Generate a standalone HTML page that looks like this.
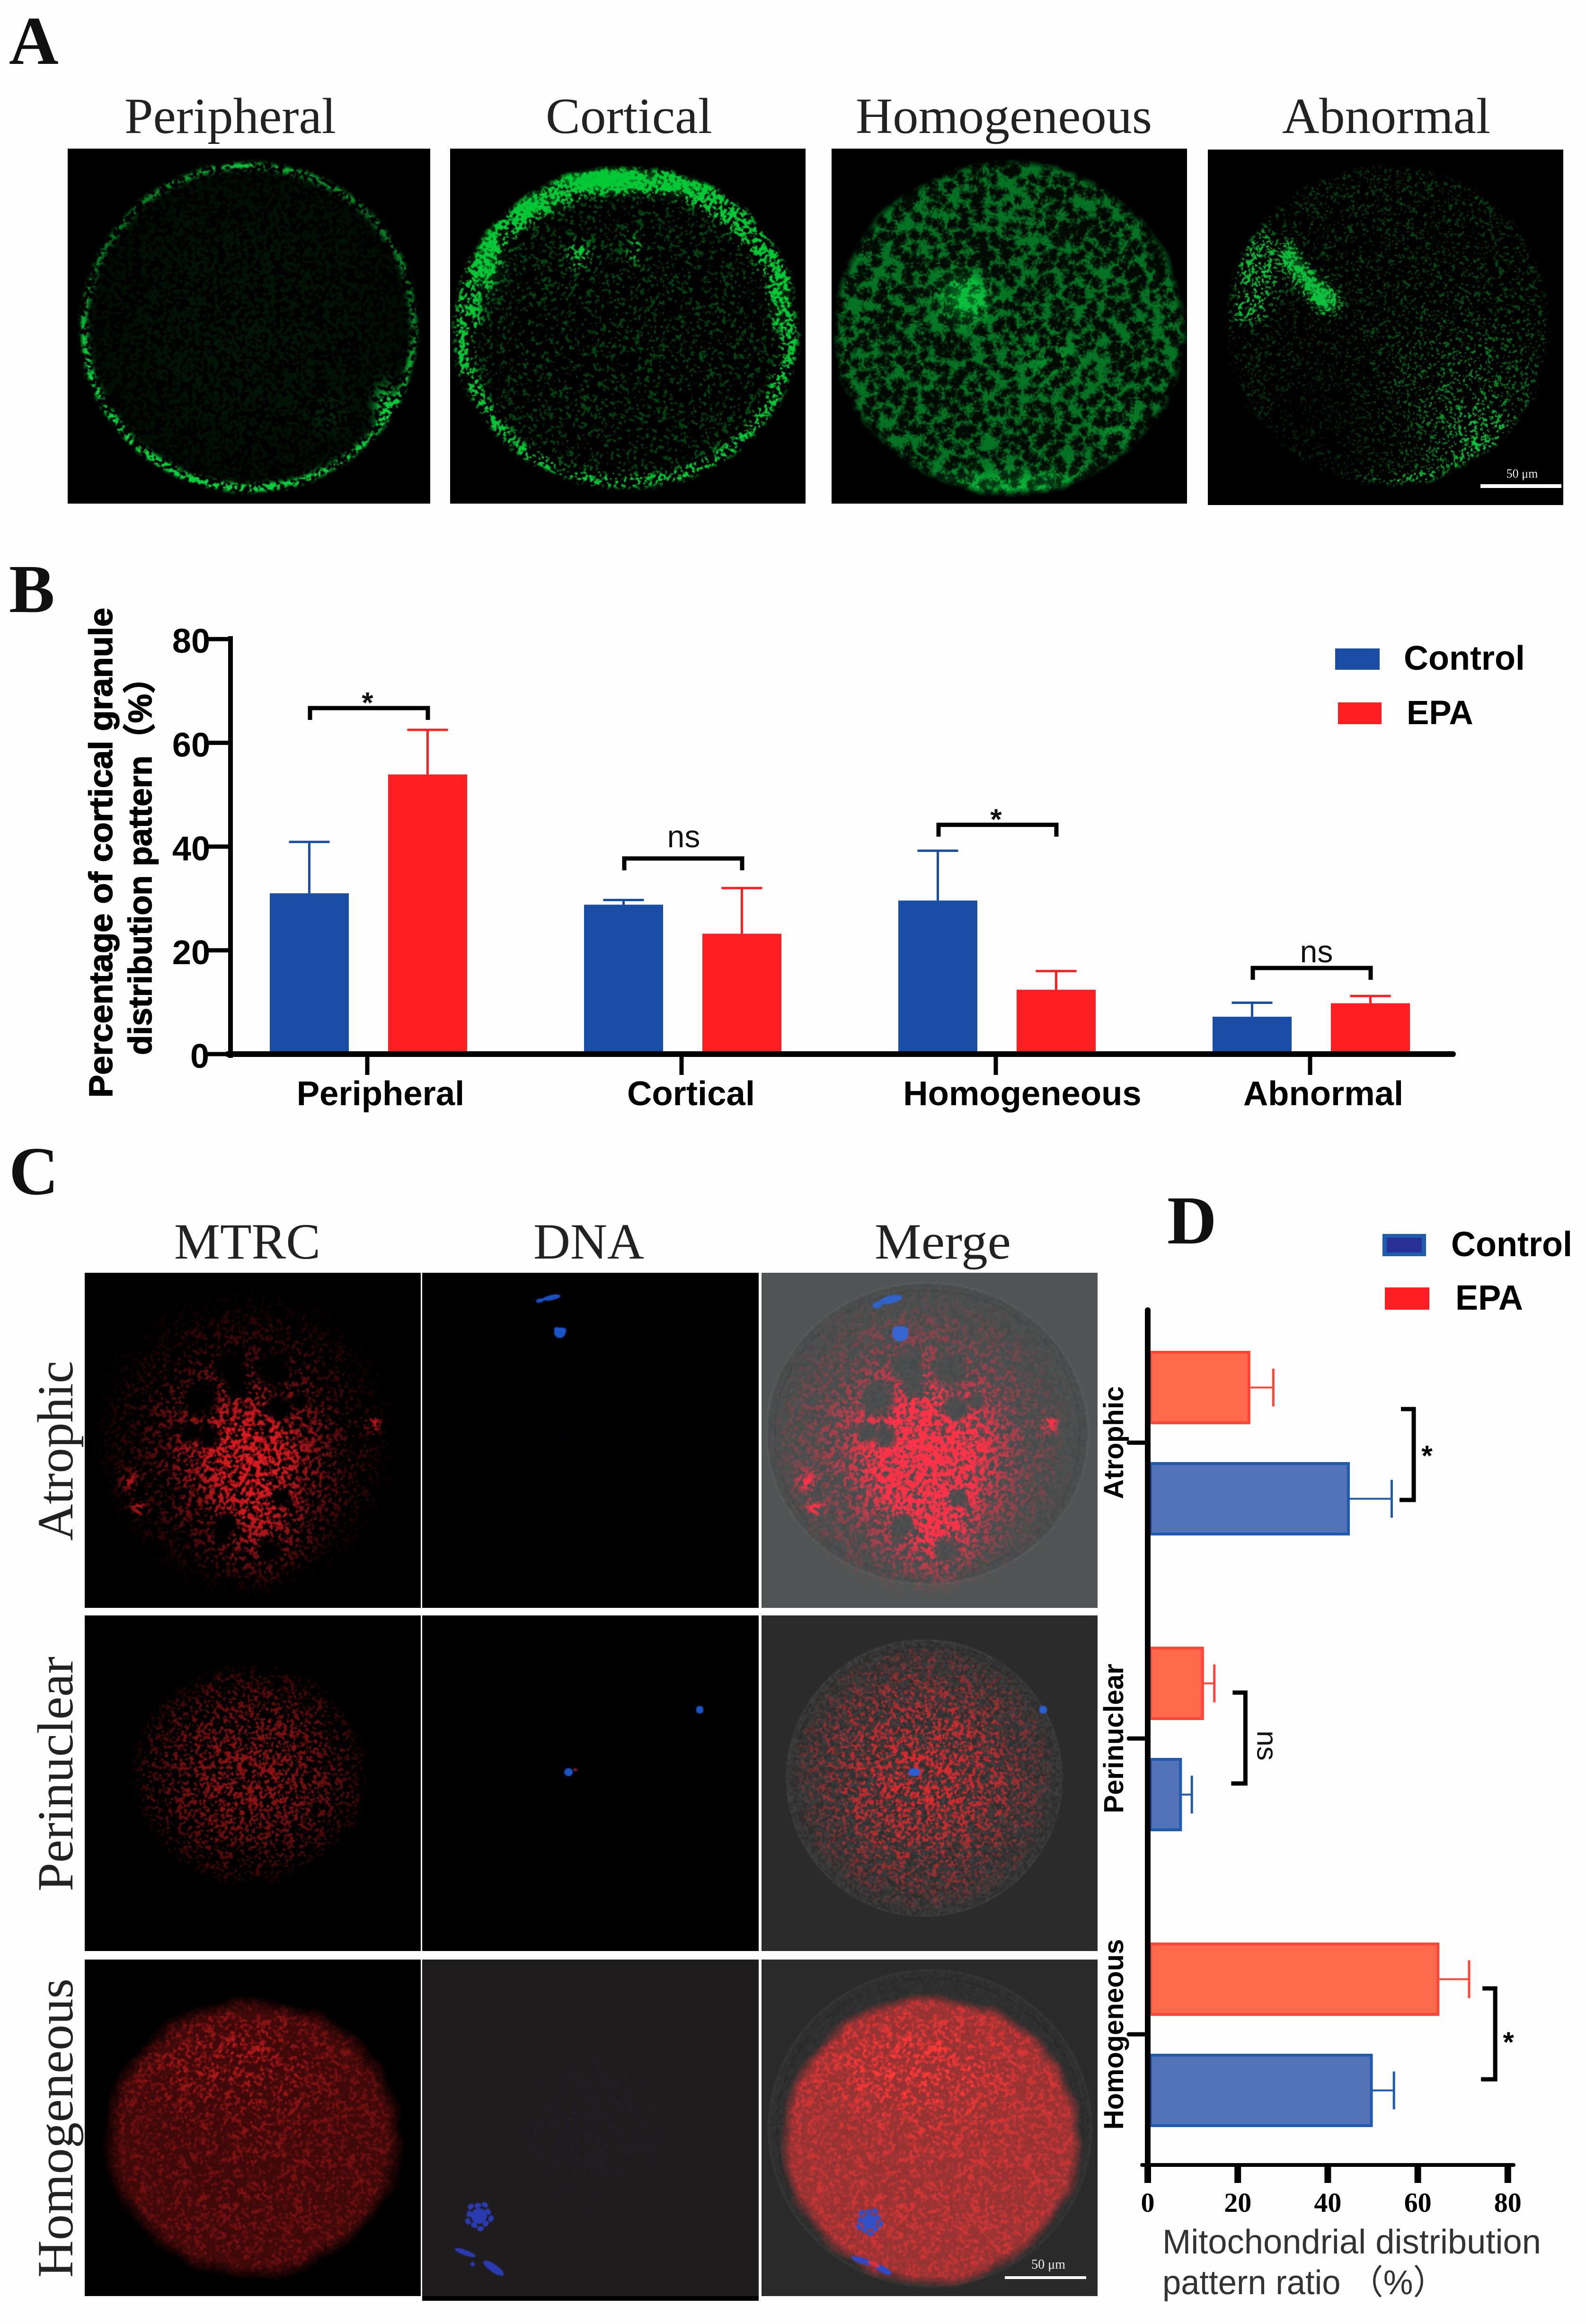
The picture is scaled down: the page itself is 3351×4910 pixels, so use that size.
<!DOCTYPE html>
<html lang="en">
<head>
<meta charset="utf-8">
<title>Cortical granule and mitochondrial distribution figure</title>
<style>
html,body{margin:0;padding:0;background:#fefefe;}
#page{position:relative;width:3351px;height:4910px;overflow:hidden;background:#fefefe;}
canvas{position:absolute;display:block;background:#000;}
#overlay{position:absolute;left:0;top:0;}
text{font-family:"Liberation Sans","Noto Sans CJK SC",sans-serif;}
.serif{font-family:"Liberation Serif","Noto Serif CJK SC",serif;}
.title{font-family:"Liberation Serif",serif;font-size:107px;fill:#222;}
.letter{font-family:"Liberation Serif",serif;font-size:145px;font-weight:bold;fill:#111;}
.bold{font-weight:bold;fill:#000;}
.heavy{stroke:#000;stroke-width:1.5px;}
</style>
</head>
<body>
<div id="page">
<canvas id="a1" style="left:143px;top:314px;width:766px;height:750px"></canvas>
<canvas id="a2" style="left:951px;top:314px;width:751px;height:750px"></canvas>
<canvas id="a3" style="left:1757px;top:314px;width:751px;height:750px"></canvas>
<canvas id="a4" style="left:2552px;top:316px;width:751px;height:751px"></canvas>

<canvas id="c11" style="left:179px;top:2689px;width:710px;height:708px"></canvas>
<canvas id="c12" style="left:892px;top:2689px;width:711px;height:708px"></canvas>
<canvas id="c13" style="left:1609px;top:2689px;width:710px;height:708px"></canvas>
<canvas id="c21" style="left:179px;top:3413px;width:710px;height:709px"></canvas>
<canvas id="c22" style="left:892px;top:3413px;width:711px;height:709px"></canvas>
<canvas id="c23" style="left:1609px;top:3413px;width:710px;height:709px"></canvas>
<canvas id="c31" style="left:179px;top:4140px;width:710px;height:711px"></canvas>
<div style="position:absolute;left:892px;top:4845px;width:711px;height:16px;background:#000"></div>
<canvas id="c32" style="left:892px;top:4140px;width:711px;height:711px"></canvas>
<canvas id="c33" style="left:1609px;top:4140px;width:710px;height:711px"></canvas>

<svg id="overlay" width="3351" height="4910" viewBox="0 0 3351 4910" xmlns="http://www.w3.org/2000/svg">
  <text class="letter" x="19" y="135">A</text>
  <text class="letter" x="19" y="1293">B</text>
  <text class="letter" x="19" y="2523">C</text>
  <text class="letter" x="2466" y="2627">D</text>

  <text class="title" x="263" y="281" textLength="447" lengthAdjust="spacingAndGlyphs">Peripheral</text>
  <text class="title" x="1153" y="281" textLength="352" lengthAdjust="spacingAndGlyphs">Cortical</text>
  <text class="title" x="1808" y="281" textLength="626" lengthAdjust="spacingAndGlyphs">Homogeneous</text>
  <text class="title" x="2709" y="281" textLength="440" lengthAdjust="spacingAndGlyphs">Abnormal</text>

  <rect x="3128" y="1023" width="171" height="8" fill="#fff"/>
  <text class="serif" x="3216" y="1009" font-size="26" fill="#eee" text-anchor="middle">50 μm</text>

  <text class="bold heavy" transform="rotate(-90 237 2319)" x="237" y="2319" font-size="70" textLength="1035" lengthAdjust="spacingAndGlyphs">Percentage of cortical granule</text>
  <text class="bold heavy" transform="rotate(-90 320 2229)" x="320" y="2229" font-size="70" textLength="832" lengthAdjust="spacingAndGlyphs">distribution pattern（%）</text>

  <rect x="2821" y="1370" width="94" height="45" fill="#1a4da5"/>
  <text class="bold" x="2966" y="1415" font-size="72">Control</text>
  <rect x="2827" y="1484" width="92" height="46" fill="#ff1f22"/>
  <text class="bold" x="2972" y="1530" font-size="71">EPA</text>

  <text class="title" x="368" y="2659" textLength="309" lengthAdjust="spacingAndGlyphs">MTRC</text>
  <text class="title" x="1127" y="2659" textLength="234" lengthAdjust="spacingAndGlyphs">DNA</text>
  <text class="title" x="1848" y="2659" textLength="288" lengthAdjust="spacingAndGlyphs">Merge</text>

  <text class="title" transform="rotate(-90 153 3255)" x="153" y="3255" textLength="380" lengthAdjust="spacingAndGlyphs">Atrophic</text>
  <text class="title" transform="rotate(-90 153 3996)" x="153" y="3996" textLength="496" lengthAdjust="spacingAndGlyphs">Perinuclear</text>
  <text class="title" transform="rotate(-90 153 4812)" x="153" y="4812" textLength="632" lengthAdjust="spacingAndGlyphs">Homogeneous</text>

  <rect x="2123" y="4809" width="172" height="6" fill="#fff"/>
  <text class="serif" x="2215" y="4793" font-size="28" fill="#eee" text-anchor="middle">50 μm</text>

  <rect x="2921" y="2607" width="92" height="47" fill="#1f5cae"/>
  <rect x="2930" y="2615" width="74" height="31" fill="#2a2f96"/>
  <text class="bold" x="3066" y="2654" font-size="74" textLength="256" lengthAdjust="spacingAndGlyphs">Control</text>
  <rect x="2926" y="2720" width="94" height="47" fill="#ff1f22"/>
  <text class="bold" x="3075" y="2767" font-size="74" textLength="143" lengthAdjust="spacingAndGlyphs">EPA</text>

  <text x="2456" y="4761" font-size="72" fill="#333" textLength="800" lengthAdjust="spacingAndGlyphs">Mitochondrial distribution</text>
  <text x="2456" y="4847" font-size="72" fill="#333" textLength="600" lengthAdjust="spacingAndGlyphs">pattern ratio （%）</text>

  <g id="chart-b"></g>
  <g id="chart-d"></g>
</svg>
</div>

<script>
/* ---------- Chart B data ---------- */
const bCategories = ['Peripheral', 'Cortical', 'Homogeneous', 'Abnormal'];
const bControl = [31.0, 28.8, 29.6, 7.2];
const bEpa = [53.9, 23.2, 12.4, 9.8];
const bControlUpper = [40.9, 29.7, 39.2, 9.9];
const bEpaUpper = [62.5, 32.0, 16.0, 11.2];
const bTicks = [0, 20, 40, 60, 80];
const bSigLabels = ['*', 'ns', '*', 'ns'];
const bSigLevels = [66.7, 37.7, 44.2, 16.6];

/* ---------- Chart D data ---------- */
const dCategories = ['Atrophic', 'Perinuclear', 'Homogeneous'];
const dControl = [44.9, 7.6, 50.0];
const dEpa = [22.8, 12.5, 64.8];
const dControlUpper = [54.2, 9.8, 54.7];
const dEpaUpper = [27.9, 14.8, 71.4];
const dTicks = [0, 20, 40, 60, 80];
const dSigLabels = ['*', 'ns', '*'];
const dSigLevels = [59.1, 21.7, 77.2];

const NS = 'http://www.w3.org/2000/svg';
function mk(parent, tag, attrs, txt) {
  const e = document.createElementNS(NS, tag);
  for (const k in attrs) e.setAttribute(k, attrs[k]);
  if (txt !== undefined) e.textContent = txt;
  parent.appendChild(e);
  return e;
}

/* ---------- Chart B ---------- */
(function () {
  const g = document.getElementById('chart-b');
  const bY = v => 2227 - v * 10.96;
  const bGroup = i => 570 + 664 * i;
  const barW = 167, epaShift = 250, capHalf = 43;
  const blue = '#1a4da5', red = '#ff1f22';

  function series(values, upper, shift, colour, label) {
    values.forEach((v, i) => {
      const x = bGroup(i) + shift;
      const cx = x + barW / 2;
      const bar = mk(g, 'rect', { x: x, y: bY(v), width: barW, height: bY(0) - bY(v), fill: colour });
      
      
      const stem = mk(g, 'line', { x1: cx, x2: cx, y1: bY(v), y2: bY(upper[i]), stroke: colour, 'stroke-width': 5 });
      
      
      const cap = mk(g, 'line', { x1: cx - capHalf, x2: cx + capHalf, y1: bY(upper[i]), y2: bY(upper[i]), stroke: colour, 'stroke-width': 5 });
      
      
    });
  }
  series(bControl, bControlUpper, 0, blue, 'control');
  series(bEpa, bEpaUpper, epaShift, red, 'epa');

  const yAxis = mk(g, 'line', { x1: 487, x2: 487, y1: 1344, y2: bY(0) + 8, stroke: '#000', 'stroke-width': 10 });
  
  
  const xAxis = mk(g, 'line', { x1: 481, x2: 3070, y1: bY(0), y2: bY(0), stroke: '#000', 'stroke-width': 12, 'stroke-linecap': 'round' });
  
  

  bTicks.forEach(t => {
    const tick = mk(g, 'line', { x1: 438, x2: 487, y1: bY(t), y2: bY(t), stroke: '#000', 'stroke-width': 9 });
    
    
    const lab = mk(g, 'text', { x: t === 0 ? 442 : 444, y: bY(t) + 29, 'font-size': 72, 'font-weight': 'bold', 'text-anchor': 'end', fill: '#000' }, String(t));
    
    
  });

  bCategories.forEach((c, i) => {
    const tx = bGroup(i) + 206;
    const tick = mk(g, 'line', { x1: tx, x2: tx, y1: bY(0), y2: bY(0) + 44, stroke: '#000', 'stroke-width': 9 });
    
    
    const lab = mk(g, 'text', { x: tx + (i === 1 ? 20 : i === 2 ? 56 : 28), y: 2335, 'font-size': 72.5, 'font-weight': 'bold', 'text-anchor': 'middle', fill: '#000' }, c);
    
    

    const x1 = bGroup(i) + 85, x2 = bGroup(i) + 334, y = bY(bSigLevels[i]);
    const br = mk(g, 'path', { d: 'M' + x1 + ' ' + (y + 25) + 'V' + y + 'H' + x2 + 'V' + (y + 25), fill: 'none', stroke: '#000', 'stroke-width': 9 });
    
    
    const isStar = bSigLabels[i] === '*';
    const sig = mk(g, 'text', { x: (x1 + x2) / 2 + (isStar ? -3 : (i === 3 ? 10 : 1)), y: isStar ? y + 10 : (i === 3 ? y - 12 : y - 24), 'font-size': isStar ? 62 : 66, 'font-weight': isStar ? 'bold' : 'normal', 'text-anchor': 'middle', fill: '#111' }, bSigLabels[i]);
    
    
  });
})();

/* ---------- Chart D ---------- */
(function () {
  const g = document.getElementById('chart-d');
  const dX = v => 2425 + v * 9.51;
  const dRow = i => 3048 + 625 * i;
  const barH = 155, capHalf = 40;

  function series(values, upper, shift, fill, edge, label) {
    values.forEach((v, i) => {
      const y = dRow(i) + shift;
      const bar = mk(g, 'rect', { x: 2431, y: y + 3, width: dX(v) - 2431 - 3, height: barH - 6, fill: fill, stroke: edge, 'stroke-width': 6 });
      
      
      const stem = mk(g, 'line', { x1: dX(v), x2: dX(upper[i]), y1: y + barH / 2, y2: y + barH / 2, stroke: edge, 'stroke-width': 4 });
      
      
      const cap = mk(g, 'line', { x1: dX(upper[i]), x2: dX(upper[i]), y1: y + barH / 2 - capHalf, y2: y + barH / 2 + capHalf, stroke: edge, 'stroke-width': 5 });
      
      
    });
  }
  series(dEpa, dEpaUpper, -194, '#ff6a4d', '#ff4535', 'epa');
  series(dControl, dControlUpper, 41, '#5373b9', '#1e5bb0', 'control');

  const yAxis = mk(g, 'line', { x1: 2425, x2: 2425, y1: 2768, y2: 4576, stroke: '#000', 'stroke-width': 12, 'stroke-linecap': 'round' });
  
  
  const xAxis = mk(g, 'line', { x1: 2413, x2: 3198, y1: 4574, y2: 4574, stroke: '#000', 'stroke-width': 8, 'stroke-linecap': 'round' });
  
  

  dTicks.forEach(t => {
    const tick = mk(g, 'line', { x1: dX(t), x2: dX(t), y1: 4570, y2: 4612, stroke: '#000', 'stroke-width': 14 });
    
    
    const lab = mk(g, 'text', { x: dX(t), y: 4673, 'font-size': 58, 'font-weight': 'bold', 'text-anchor': 'middle', fill: '#000', class: 'serif' }, String(t));
    
    
  });

  dCategories.forEach((c, i) => {
    const y = dRow(i);
    const tick = mk(g, 'line', { x1: 2385, x2: 2425, y1: y, y2: y, stroke: '#000', 'stroke-width': 9, 'stroke-linecap': 'round' });
    
    
    const lab = mk(g, 'text', { x: 2373, y: y, 'font-size': 58, 'font-weight': 'bold', 'text-anchor': 'middle', fill: '#000', transform: 'rotate(-90 2373 ' + y + ')' }, c);
    
    

    const bx = dX(dSigLevels[i]);
    const top = y - (i === 0 ? 71 : 97);
    const br = mk(g, 'path', { d: 'M' + (bx - 27) + ' ' + top + 'H' + bx + 'V' + (top + 192) + 'H' + (bx - 30), fill: 'none', stroke: '#000', 'stroke-width': 9 });
    
    
    let sig;
    if (dSigLabels[i] === '*') {
      sig = mk(g, 'text', { x: bx + 28, y: top + 97 + (i === 2 ? 37 : 22), 'font-size': 60, 'font-weight': 'bold', 'text-anchor': 'middle', fill: '#000' }, '*');
    } else {
      const nx = bx + 25, ny = top + 112;
      sig = mk(g, 'text', { x: nx, y: ny, 'font-size': 60, 'text-anchor': 'middle', fill: '#111', transform: 'rotate(90 ' + nx + ' ' + ny + ')' }, dSigLabels[i]);
    }
    
    
  });
})();

/* ---------- Micrograph texture painter (decorative image stand-ins) ---------- */
const NOISE_N = 256;
const noiseTable = new Float32Array(NOISE_N * NOISE_N);
(function () {
  let s = 123456789;
  for (let i = 0; i < noiseTable.length; i++) {
    s = (s * 1664525 + 1013904223) >>> 0;
    noiseTable[i] = ((s >>> 8) & 65535) / 65535;
  }
})();
function vnoise(x, y) {
  const xi = Math.floor(x), yi = Math.floor(y);
  let fx = x - xi, fy = y - yi;
  fx = fx * fx * (3 - 2 * fx);
  fy = fy * fy * (3 - 2 * fy);
  const m = NOISE_N - 1;
  const t = noiseTable;
  const a = t[(yi & m) * NOISE_N + (xi & m)], b = t[(yi & m) * NOISE_N + ((xi + 1) & m)];
  const c = t[((yi + 1) & m) * NOISE_N + (xi & m)], d = t[((yi + 1) & m) * NOISE_N + ((xi + 1) & m)];
  return a + (b - a) * fx + (c - a) * fy + (a - b - c + d) * fx * fy;
}
function worley(x, y) {
  const xi = Math.floor(x), yi = Math.floor(y), m = NOISE_N - 1;
  let best = 9;
  for (let j = -1; j <= 1; j++) for (let i = -1; i <= 1; i++) {
    const cx = xi + i, cy = yi + j;
    const px = cx + noiseTable[(cy & m) * NOISE_N + (cx & m)];
    const py = cy + noiseTable[((cy + 77) & m) * NOISE_N + ((cx + 31) & m)];
    const dd = (x - px) * (x - px) + (y - py) * (y - py);
    if (dd < best) best = dd;
  }
  return Math.sqrt(best);
}
function grain(x, y, sc, seed) {
  const a = vnoise((.866 * x + .5 * y) / sc + seed, (-.5 * x + .866 * y) / sc + seed);
  const b = vnoise((.5 * x - .866 * y) / (sc * .55) - seed, (.866 * x + .5 * y) / (sc * .55) + seed);
  const c = vnoise((.96 * x + .28 * y) / (sc * .3) + 11, (-.28 * x + .96 * y) / (sc * .3));
  return .5 + (.55 * a + .3 * b + .15 * c - .5) * 1.4;
}
const cl = v => v < 0 ? 0 : v > 1 ? 1 : v;

function paint(id, o) {
  const cv = document.getElementById(id);
  const W = Math.round(parseFloat(cv.style.width) / 2), H = Math.round(parseFloat(cv.style.height) / 2);
  cv.width = W; cv.height = H;
  const ctx = cv.getContext('2d');
  const img = ctx.createImageData(W, H), px = img.data;
  const sc = o.sc || 3, thr = o.thr === undefined ? .45 : o.thr, gain = o.gain || 4;
  const seed = (o.seed || 1) * 37.3;
  const spots = o.spots || [], holes = o.holes || [], edge = o.edge;
  const fo = o.fo === undefined ? 0 : o.fo, base = o.base || 0, dens = o.dens || 0, wob = o.wob || 0;
  for (let y = 0; y < H; y++) {
    for (let x = 0; x < W; x++) {
      const u = x / W, v = y / H;
      const dx = (u - o.cx) / o.rx, dy = (v - o.cy) / o.ry;
      let d = Math.hypot(dx, dy);
      if (wob) d += (vnoise(x / 22 + seed, y / 22 + 5) - .5) * wob;
      const m = cl((1.02 - d) / (o.soft || .04));
      let I = 0, solid = 0;
      if (m > 0) {
        I = (o.fill || 0) * Math.max(0, 1 - fo * d * d);
        if (edge) {
          let a = Math.atan2(dy, dx); if (a < 0) a += 6.28318;
          const k = a / 6.28318 * edge.length, k0 = Math.floor(k) % edge.length, k1 = (k0 + 1) % edge.length, f = k - Math.floor(k);
          const ea = edge[k0] + (edge[k1] - edge[k0]) * f;
          const ew = o.ew * (o.ewTop && dy < 0 ? o.ewTop : 1);
          const q = (d - (1 - ew)) / ew;
          I += ea * Math.exp(-q * q);
        }
        for (let i = 0; i < spots.length; i++) {
          const s = spots[i], ax = (u - s[0]) / s[2], ay = (v - s[1]) / (s[4] || s[2]);
          const ex = Math.exp(-(ax * ax + ay * ay));
          I += s[3] * ex;
          if (s[5]) solid += s[5] * ex;
        }
        for (let i = 0; i < holes.length; i++) {
          const h = holes[i], hd = Math.hypot(u - h[0], v - h[1]) / h[2];
          if (hd < 1) { const hh = hd * hd * hd; I *= hh; solid *= hh; }
        }
        if (I < 0) I = 0;
      }
      let n;
      if (o.mesh) {
        n = worley(x / o.mesh + .37 * vnoise(x / 9, y / 9 + 40), y / o.mesh + .37 * vnoise(x / 9 + 40, y / 9)) * 1.25 + (vnoise(x / 1.8 + seed, y / 1.8) - .5) * .7 + (vnoise(x / 26, y / 26 + seed) - .5) * .3;
      } else {
        n = grain(x, y, sc, seed);
      }
      const t = cl((n - thr + I * dens) * gain);
      const a = Math.min(1, (base + solid) * m + (o.amp ? t * Math.min(1, I * o.amp) : I * t) * m);
      let r = o.bg[0], g = o.bg[1], b = o.bg[2];
      if (o.cell) {
        const cd = Math.hypot((u - o.cell[0]) / o.cell[2], (v - o.cell[1]) / o.cell[3]);
        if (cd < 1) {
          const gr = (vnoise(x / 2.4 + 90, y / 2.4 + seed) - .5) * o.cell[5];
          const dv = o.cell[4] + gr;
          r += dv; g += dv; b += dv;
        }
        if (Math.abs(cd - 1) < .007) { r += 7; g += 7; b += 7; }
        if (Math.abs(cd - .95) < .005) { r -= 5; g -= 5; b -= 5; }
      }
      const p = (y * W + x) * 4;
      px[p] = r + (o.col[0] - r) * a;
      px[p + 1] = g + (o.col[1] - g) * a;
      px[p + 2] = b + (o.col[2] - b) * a;
      px[p + 3] = 255;
    }
  }
  ctx.putImageData(img, 0, 0);
  (o.blobs || []).forEach(b => {
    ctx.fillStyle = b[5];
    ctx.beginPath();
    ctx.ellipse(b[0] * W, b[1] * H, b[2] * W, b[3] * H, b[4], 0, 6.2832);
    ctx.fill();
  });
}
function star(cx, cy, r, colour) {
  const out = [[cx, cy, r * .62, r * .62, 0, colour]];
  for (let k = 0; k < 10; k++) {
    const a = k * .628 + .2, q = k % 2 ? .78 : .95;
    out.push([cx + Math.cos(a) * r * q, cy + Math.sin(a) * r * q * 1.05, r * .2, r * .26, a, colour]);
  }
  return out;
}

const K = [0, 0, 0];
/* Panel A */
paint('a1', { bg: K, col: [12, 205, 62], cx: .5, cy: .502, rx: .468, ry: .468, seed: 1, sc: 3, thr: .42, gain: 5, fill: .11, fo: .5, ew: .026, wob: .012,
  edge: [.6, 1.0, 1.05, 1.6, 1.7, 1.35, .85, .5, .6, .95, .65, .55],
  spots: [[.876, .724, .03, 1.1, .055], [.72, .75, .05, .12]] });
paint('a2', { bg: K, col: [5, 200, 55], cx: .494, cy: .505, rx: .486, ry: .455, seed: 2, sc: 2.8, thr: .68, gain: 8, dens: .36, amp: 2.6, fill: .13, ew: .045, ewTop: 1.5, wob: .025,
  edge: [.55, .45, .35, .32, .32, .4, .55, .65, .72, .85, .7, .6],
  spots: [[.36, .3, .03, .45, .035], [.52, .285, .025, .28, .04], [.43, .085, .12, .5, .03, 1.0], [.22, .15, .07, .3, .03, .55], [.68, .1, .1, .35, .03, .4], [.1, .29, .035, .35, .09, .45], [.93, .42, .025, .3, .07, .2]] });
paint('a3', { bg: K, col: [10, 190, 60], cx: .498, cy: .505, rx: .491, ry: .467, seed: 3, mesh: 12, thr: .34, gain: 2.0, fill: .55, soft: .05, base: .05, wob: .025,
  spots: [[.372, .42, .055, .4, .055, .6], [.62, .59, .07, .15], [.8, .78, .05, .15], [.5, .95, .4, .1, .04, .25]] });
paint('a4', { bg: K, col: [15, 190, 60], cx: .505, cy: .493, rx: .452, ry: .447, seed: 4, sc: 2.2, thr: .7, gain: 8, dens: .42, amp: 3.2, fill: .11, wob: .03,
  spots: [[.23, .3, .02, .8, .03, .5], [.255, .34, .02, .8, .03, .5], [.285, .375, .02, .8, .025, .45], [.315, .4, .03, .8, .03, .45], [.335, .43, .028, .8, .025, .4], [.14, .33, .05, .5, .09], [.11, .45, .05, .35, .03],
          [.78, .85, .1, .25], [.72, .68, .2, .13], [.6, .93, .12, .25, .03], [.3, .75, .2, -.05]] });

/* Panel C, row 1: atrophic */
const atrophicHoles = [[.432, .275, .055], [.558, .288, .06], [.452, .335, .038], [.345, .375, .06], [.578, .401, .045], [.365, .485, .042], [.312, .475, .035], [.638, .381, .03], [.585, .671, .032], [.418, .751, .04], [.551, .828, .042]];
const atrophicSpots = [[.5, .57, .2, .42], [.47, .5, .33, .58], [.52, .8, .13, .3], [.13, .62, .03, .5], [.155, .7, .025, .6], [.86, .45, .025, .6]];
paint('c11', { bg: K, col: [215, 26, 32], cx: .48, cy: .5, rx: .47, ry: .47, seed: 5, sc: 3, thr: .58, gain: 3.4, dens: .3, amp: 1.15, soft: .2, wob: .04, spots: atrophicSpots, holes: atrophicHoles });
paint('c12', { bg: K, col: [30, 30, 130], cx: .5, cy: .5, rx: .3, ry: .3, seed: 6, sc: 3, thr: .6, gain: 3, fill: .04, fo: 1,
  blobs: [[.385, .074, .027, .008, -.2, '#1a4fc0'], [.35, .083, .012, .006, -.2, '#1a4fc0'], [.409, .179, .017, .016, 0, '#1a55c8'], [.4, .17, .008, .008, 0, '#1a55c8'], [.42, .172, .008, .008, 0, '#1a55c8']] });
paint('c13', { bg: [81, 84, 84], col: [255, 50, 72], cx: .48, cy: .5, rx: .47, ry: .47, seed: 5, sc: 3, thr: .56, gain: 3.6, dens: .4, amp: 1.5, soft: .2, wob: .04,
  spots: atrophicSpots, holes: atrophicHoles, cell: [.492, .478, .478, .449, -7, 10],
  blobs: [[.385, .08, .035, .012, -.22, '#3062c8'], [.345, .096, .015, .01, -.2, '#3062c8'], [.413, .182, .024, .023, 0, '#3766d0'], [.402, .172, .012, .012, 0, '#3766d0'], [.425, .172, .012, .012, 0, '#3766d0']] });

/* Panel C, row 2: perinuclear */
paint('c21', { bg: K, col: [205, 26, 28], cx: .491, cy: .472, rx: .355, ry: .333, seed: 7, sc: 2.6, thr: .62, gain: 4, dens: .3, amp: 1.0, fill: .7, fo: .7, soft: .12, wob: .05 });
paint('c22', { bg: K, col: [0, 0, 0], cx: .5, cy: .5, rx: .1, ry: .1, seed: 8,
  blobs: [[.825, .281, .011, .011, 0, '#1a55c8'], [.435, .467, .013, .012, 0, '#1a55c8'], [.455, .46, .006, .005, 0, '#7a2030']] });
paint('c23', { bg: [43, 43, 43], col: [235, 40, 45], cx: .483, cy: .483, rx: .385, ry: .39, seed: 7, sc: 2.6, thr: .62, gain: 3.6, dens: .3, amp: 1.3, fill: .72, fo: .7, soft: .06, wob: .03,
  cell: [.483, .483, .41, .412, 10, 22],
  blobs: [[.838, .281, .012, .012, 0, '#2a5fd0'], [.455, .467, .018, .012, 0, '#2a5fd0']] });

/* Panel C, row 3: homogeneous */
paint('c31', { bg: K, col: [225, 30, 32], cx: .5, cy: .53, rx: .44, ry: .413, seed: 9, sc: 3, thr: .46, gain: 2.6, fill: .3, fo: .25, base: .28, soft: .12, wob: .05,
  spots: [[.45, .3, .26, .28, .14]] });
paint('c32', { bg: [31, 28, 29], col: [45, 38, 80], cx: .5, cy: .5, rx: .3, ry: .33, seed: 10, sc: 3, thr: .55, gain: 3, fill: .25, fo: 1, soft: .2,
  blobs: star(.169, .762, .038, '#2a3bb2').concat([[.128, .871, .033, .008, .35, '#2a3bb2'], [.212, .917, .036, .012, .6, '#2a3bb2'], [.15, .905, .006, .007, 0, '#2a3bb2']]) });
paint('c33', { bg: [42, 42, 42], col: [255, 55, 55], cx: .504, cy: .536, rx: .442, ry: .428, seed: 9, sc: 3, thr: .44, gain: 2.6, fill: .32, fo: .2, base: .5, soft: .08, wob: .04,
  cell: [.5, .5, .48, .47, 5, 10], spots: [[.47, .32, .28, .28, .14]],
  blobs: star(.321, .779, .036, '#3150c8').concat([[.3, .895, .035, .009, .3, '#3348c0'], [.36, .92, .03, .01, .5, '#2d4bc4'], [.335, .905, .02, .006, .4, '#e03040']]) });
</script>
</body>
</html>
